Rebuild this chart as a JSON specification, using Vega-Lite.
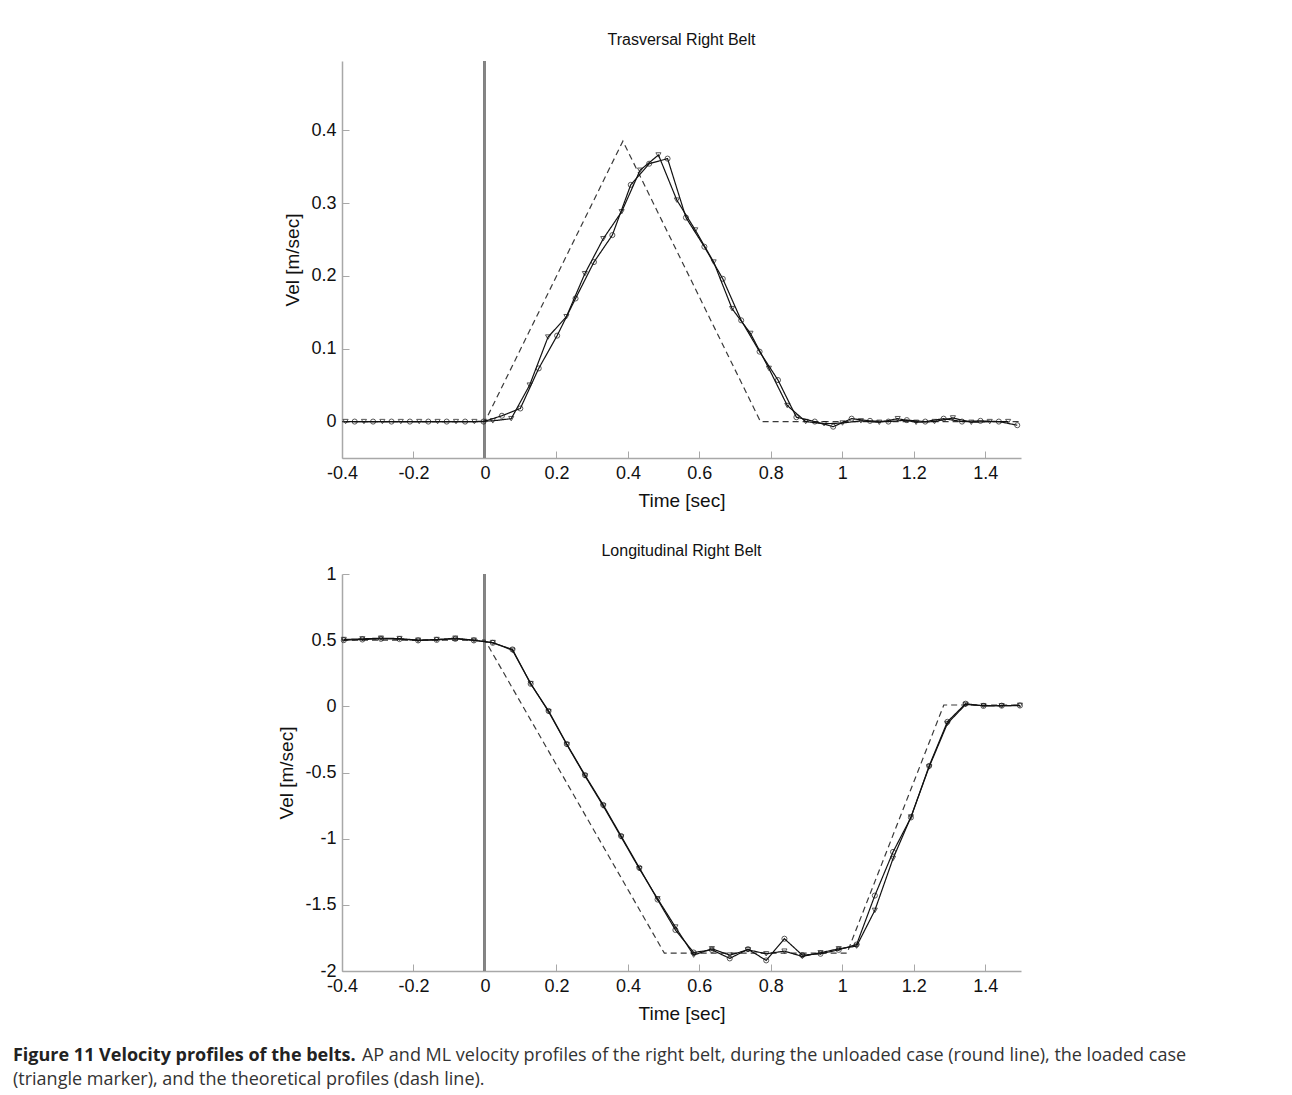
{
  "$schema": "https://vega.github.io/schema/vega-lite/v6.json",
  "background": "white",
  "padding": {"left": 12, "top": 32, "right": 5, "bottom": 5},
  "datasets": {
    "top": [
      {"t": -0.4, "v": 0, "case": "theoretical"},
      {"t": 0, "v": 0, "case": "theoretical"},
      {"t": 0.386, "v": 0.385, "case": "theoretical"},
      {"t": 0.771, "v": 0, "case": "theoretical"},
      {"t": 1.5, "v": 0, "case": "theoretical"},

      {"t": -0.39, "v": 0, "case": "loaded"},
      {"t": -0.3385, "v": 0, "case": "loaded"},
      {"t": -0.287, "v": 0, "case": "loaded"},
      {"t": -0.2355, "v": 0, "case": "loaded"},
      {"t": -0.184, "v": 0, "case": "loaded"},
      {"t": -0.1325, "v": 0, "case": "loaded"},
      {"t": -0.081, "v": 0, "case": "loaded"},
      {"t": -0.0295, "v": 0, "case": "loaded"},
      {"t": 0.022, "v": 0.001, "case": "loaded"},
      {"t": 0.0735, "v": 0.004, "case": "loaded"},
      {"t": 0.125, "v": 0.05, "case": "loaded"},
      {"t": 0.1765, "v": 0.116, "case": "loaded"},
      {"t": 0.228, "v": 0.144, "case": "loaded"},
      {"t": 0.2795, "v": 0.203, "case": "loaded"},
      {"t": 0.331, "v": 0.251, "case": "loaded"},
      {"t": 0.3825, "v": 0.288, "case": "loaded"},
      {"t": 0.434, "v": 0.345, "case": "loaded"},
      {"t": 0.4855, "v": 0.366, "case": "loaded"},
      {"t": 0.537, "v": 0.304, "case": "loaded"},
      {"t": 0.5885, "v": 0.263, "case": "loaded"},
      {"t": 0.64, "v": 0.219, "case": "loaded"},
      {"t": 0.6915, "v": 0.155, "case": "loaded"},
      {"t": 0.743, "v": 0.121, "case": "loaded"},
      {"t": 0.7945, "v": 0.073, "case": "loaded"},
      {"t": 0.846, "v": 0.022, "case": "loaded"},
      {"t": 0.8975, "v": 0.0, "case": "loaded"},
      {"t": 0.949, "v": -0.003, "case": "loaded"},
      {"t": 1.0005, "v": -0.002, "case": "loaded"},
      {"t": 1.052, "v": 0.001, "case": "loaded"},
      {"t": 1.1035, "v": -0.001, "case": "loaded"},
      {"t": 1.155, "v": 0.004, "case": "loaded"},
      {"t": 1.2065, "v": -0.001, "case": "loaded"},
      {"t": 1.258, "v": 0.0, "case": "loaded"},
      {"t": 1.3095, "v": 0.005, "case": "loaded"},
      {"t": 1.361, "v": -0.001, "case": "loaded"},
      {"t": 1.4125, "v": 0.0, "case": "loaded"},
      {"t": 1.464, "v": 0.0, "case": "loaded"},

      {"t": -0.3645, "v": 0, "case": "unloaded"},
      {"t": -0.313, "v": 0, "case": "unloaded"},
      {"t": -0.2615, "v": 0, "case": "unloaded"},
      {"t": -0.21, "v": 0, "case": "unloaded"},
      {"t": -0.1585, "v": 0, "case": "unloaded"},
      {"t": -0.107, "v": 0, "case": "unloaded"},
      {"t": -0.0555, "v": 0, "case": "unloaded"},
      {"t": -0.004, "v": 0, "case": "unloaded"},
      {"t": 0.0475, "v": 0.008, "case": "unloaded"},
      {"t": 0.099, "v": 0.018, "case": "unloaded"},
      {"t": 0.1505, "v": 0.073, "case": "unloaded"},
      {"t": 0.202, "v": 0.118, "case": "unloaded"},
      {"t": 0.2535, "v": 0.169, "case": "unloaded"},
      {"t": 0.305, "v": 0.219, "case": "unloaded"},
      {"t": 0.3565, "v": 0.256, "case": "unloaded"},
      {"t": 0.408, "v": 0.325, "case": "unloaded"},
      {"t": 0.4595, "v": 0.354, "case": "unloaded"},
      {"t": 0.511, "v": 0.361, "case": "unloaded"},
      {"t": 0.5625, "v": 0.28, "case": "unloaded"},
      {"t": 0.614, "v": 0.24, "case": "unloaded"},
      {"t": 0.6655, "v": 0.196, "case": "unloaded"},
      {"t": 0.717, "v": 0.139, "case": "unloaded"},
      {"t": 0.7685, "v": 0.096, "case": "unloaded"},
      {"t": 0.82, "v": 0.057, "case": "unloaded"},
      {"t": 0.8715, "v": 0.006, "case": "unloaded"},
      {"t": 0.923, "v": 0.0, "case": "unloaded"},
      {"t": 0.9745, "v": -0.007, "case": "unloaded"},
      {"t": 1.026, "v": 0.004, "case": "unloaded"},
      {"t": 1.0775, "v": 0.001, "case": "unloaded"},
      {"t": 1.129, "v": 0.0, "case": "unloaded"},
      {"t": 1.1805, "v": 0.002, "case": "unloaded"},
      {"t": 1.232, "v": 0.0, "case": "unloaded"},
      {"t": 1.2835, "v": 0.004, "case": "unloaded"},
      {"t": 1.335, "v": 0.0, "case": "unloaded"},
      {"t": 1.3865, "v": 0.001, "case": "unloaded"},
      {"t": 1.438, "v": 0.0, "case": "unloaded"},
      {"t": 1.4895, "v": -0.005, "case": "unloaded"}
    ],
    "bottom": [
      {"t": -0.4, "v": 0.5, "case": "theoretical"},
      {"t": 0, "v": 0.5, "case": "theoretical"},
      {"t": 0.502, "v": -1.865, "case": "theoretical"},
      {"t": 1.013, "v": -1.865, "case": "theoretical"},
      {"t": 1.284, "v": 0.01, "case": "theoretical"},
      {"t": 1.5, "v": 0.01, "case": "theoretical"},

      {"t": -0.395, "v": 0.505, "case": "loaded"},
      {"t": -0.343, "v": 0.51, "case": "loaded"},
      {"t": -0.291, "v": 0.515, "case": "loaded"},
      {"t": -0.239, "v": 0.512, "case": "loaded"},
      {"t": -0.187, "v": 0.5, "case": "loaded"},
      {"t": -0.135, "v": 0.505, "case": "loaded"},
      {"t": -0.083, "v": 0.515, "case": "loaded"},
      {"t": -0.031, "v": 0.5, "case": "loaded"},
      {"t": 0.022, "v": 0.482, "case": "loaded"},
      {"t": 0.077, "v": 0.424, "case": "loaded"},
      {"t": 0.128, "v": 0.172, "case": "loaded"},
      {"t": 0.178, "v": -0.04, "case": "loaded"},
      {"t": 0.229, "v": -0.289, "case": "loaded"},
      {"t": 0.28, "v": -0.526, "case": "loaded"},
      {"t": 0.331, "v": -0.753, "case": "loaded"},
      {"t": 0.381, "v": -0.987, "case": "loaded"},
      {"t": 0.432, "v": -1.227, "case": "loaded"},
      {"t": 0.483, "v": -1.454, "case": "loaded"},
      {"t": 0.533, "v": -1.668, "case": "loaded"},
      {"t": 0.584, "v": -1.88, "case": "loaded"},
      {"t": 0.635, "v": -1.832, "case": "loaded"},
      {"t": 0.685, "v": -1.88, "case": "loaded"},
      {"t": 0.736, "v": -1.84, "case": "loaded"},
      {"t": 0.787, "v": -1.87, "case": "loaded"},
      {"t": 0.838, "v": -1.85, "case": "loaded"},
      {"t": 0.888, "v": -1.89, "case": "loaded"},
      {"t": 0.939, "v": -1.862, "case": "loaded"},
      {"t": 0.99, "v": -1.832, "case": "loaded"},
      {"t": 1.04, "v": -1.812, "case": "loaded"},
      {"t": 1.091, "v": -1.542, "case": "loaded"},
      {"t": 1.142, "v": -1.15, "case": "loaded"},
      {"t": 1.192, "v": -0.836, "case": "loaded"},
      {"t": 1.243, "v": -0.458, "case": "loaded"},
      {"t": 1.294, "v": -0.13, "case": "loaded"},
      {"t": 1.345, "v": 0.014, "case": "loaded"},
      {"t": 1.395, "v": 0.005, "case": "loaded"},
      {"t": 1.446, "v": 0.004, "case": "loaded"},
      {"t": 1.497, "v": 0.008, "case": "loaded"},

      {"t": -0.395, "v": 0.5, "case": "unloaded"},
      {"t": -0.343, "v": 0.505, "case": "unloaded"},
      {"t": -0.291, "v": 0.51, "case": "unloaded"},
      {"t": -0.239, "v": 0.508, "case": "unloaded"},
      {"t": -0.187, "v": 0.498, "case": "unloaded"},
      {"t": -0.135, "v": 0.502, "case": "unloaded"},
      {"t": -0.083, "v": 0.51, "case": "unloaded"},
      {"t": -0.031, "v": 0.498, "case": "unloaded"},
      {"t": 0.022, "v": 0.48, "case": "unloaded"},
      {"t": 0.077, "v": 0.43, "case": "unloaded"},
      {"t": 0.128, "v": 0.17, "case": "unloaded"},
      {"t": 0.178, "v": -0.035, "case": "unloaded"},
      {"t": 0.229, "v": -0.285, "case": "unloaded"},
      {"t": 0.28, "v": -0.52, "case": "unloaded"},
      {"t": 0.331, "v": -0.745, "case": "unloaded"},
      {"t": 0.381, "v": -0.98, "case": "unloaded"},
      {"t": 0.432, "v": -1.22, "case": "unloaded"},
      {"t": 0.483, "v": -1.46, "case": "unloaded"},
      {"t": 0.533, "v": -1.69, "case": "unloaded"},
      {"t": 0.584, "v": -1.86, "case": "unloaded"},
      {"t": 0.635, "v": -1.84, "case": "unloaded"},
      {"t": 0.685, "v": -1.905, "case": "unloaded"},
      {"t": 0.736, "v": -1.835, "case": "unloaded"},
      {"t": 0.787, "v": -1.92, "case": "unloaded"},
      {"t": 0.838, "v": -1.756, "case": "unloaded"},
      {"t": 0.888, "v": -1.88, "case": "unloaded"},
      {"t": 0.939, "v": -1.87, "case": "unloaded"},
      {"t": 0.99, "v": -1.84, "case": "unloaded"},
      {"t": 1.04, "v": -1.8, "case": "unloaded"},
      {"t": 1.091, "v": -1.43, "case": "unloaded"},
      {"t": 1.142, "v": -1.1, "case": "unloaded"},
      {"t": 1.192, "v": -0.84, "case": "unloaded"},
      {"t": 1.243, "v": -0.45, "case": "unloaded"},
      {"t": 1.294, "v": -0.117, "case": "unloaded"},
      {"t": 1.345, "v": 0.02, "case": "unloaded"},
      {"t": 1.395, "v": 0.003, "case": "unloaded"},
      {"t": 1.446, "v": 0.005, "case": "unloaded"},
      {"t": 1.497, "v": 0.006, "case": "unloaded"}
    ]
  },
  "title": {
    "text": "Figure 11 Velocity profiles of the belts.",
    "subtitle": "(triangle marker), and the theoretical profiles (dash line).",
    "orient": "bottom",
    "anchor": "start",
    "frame": "bounds",
    "dx": -265,
    "dy": -18,
    "offset": 0,
    "font": "Open Sans",
    "fontSize": 18,
    "fontWeight": "bold",
    "color": "#222222",
    "subtitleFont": "Open Sans",
    "subtitleFontSize": 18,
    "subtitleColor": "#333333",
    "subtitlePadding": 6
  },
  "vconcat": [
    {
      "title": {
        "text": "AP and ML velocity profiles of the right belt, during the unloaded case (round line), the loaded case",
        "orient": "bottom",
        "anchor": "start",
        "frame": "bounds",
        "dx": 84,
        "offset": 24,
        "font": "Open Sans",
        "fontSize": 18,
        "fontWeight": "normal",
        "color": "#333333"
      },
      "spacing": 33,
      "vconcat": [
        {
          "width": 679,
          "height": 397,
          "title": {"text": "Trasversal Right Belt", "offset": 12},
          "data": {"name": "top"},
          "layer": [
            {
              "mark": {"type": "rule", "color": "#858585", "strokeWidth": 2},
              "encoding": {"x": {"datum": 0, "type": "quantitative"}}
            },
            {
              "mark": {"type": "line", "strokeWidth": 1.2},
              "encoding": {
                "x": {"field": "t", "type": "quantitative", "scale": {"domain": [-0.4, 1.5], "nice": false, "zero": false},
                      "axis": {"title": "Time [sec]", "values": [-0.4, -0.2, 0, 0.2, 0.4, 0.6, 0.8, 1, 1.2, 1.4], "labelExpr": "'' + datum.value"}},
                "y": {"field": "v", "type": "quantitative", "scale": {"domain": [-0.05, 0.495], "nice": false, "zero": false},
                      "axis": {"title": "Vel [m/sec]", "values": [0, 0.1, 0.2, 0.3, 0.4], "labelExpr": "'' + datum.value"}},
                "detail": {"field": "case"},
                "color": {"field": "case", "type": "nominal", "scale": {"domain": ["unloaded", "loaded", "theoretical"], "range": ["#111111", "#111111", "#3a3a3a"]}, "legend": null},
                "strokeDash": {"field": "case", "type": "nominal", "scale": {"domain": ["unloaded", "loaded", "theoretical"], "range": [[1, 0], [1, 0], [6, 4]]}, "legend": null}
              }
            },
            {
              "transform": [{"filter": "datum.case !== 'theoretical'"}],
              "mark": {"type": "point", "filled": false, "size": 26, "strokeWidth": 1, "color": "#111111"},
              "encoding": {
                "x": {"field": "t", "type": "quantitative"},
                "y": {"field": "v", "type": "quantitative"},
                "shape": {"field": "case", "type": "nominal", "scale": {"domain": ["unloaded", "loaded"], "range": ["circle", "triangle-down"]}, "legend": null}
              }
            }
          ]
        },
        {
          "width": 679,
          "height": 397,
          "title": {"text": "Longitudinal Right Belt", "offset": 6},
          "data": {"name": "bottom"},
          "layer": [
            {
              "mark": {"type": "rule", "color": "#858585", "strokeWidth": 2},
              "encoding": {"x": {"datum": 0, "type": "quantitative"}}
            },
            {
              "mark": {"type": "line", "strokeWidth": 1.2},
              "encoding": {
                "x": {"field": "t", "type": "quantitative", "scale": {"domain": [-0.4, 1.5], "nice": false, "zero": false},
                      "axis": {"title": "Time [sec]", "values": [-0.4, -0.2, 0, 0.2, 0.4, 0.6, 0.8, 1, 1.2, 1.4], "labelExpr": "'' + datum.value"}},
                "y": {"field": "v", "type": "quantitative", "scale": {"domain": [-2, 1], "nice": false, "zero": false},
                      "axis": {"title": "Vel [m/sec]", "values": [-2, -1.5, -1, -0.5, 0, 0.5, 1], "labelExpr": "'' + datum.value"}},
                "detail": {"field": "case"},
                "color": {"field": "case", "type": "nominal", "scale": {"domain": ["unloaded", "loaded", "theoretical"], "range": ["#111111", "#111111", "#3a3a3a"]}, "legend": null},
                "strokeDash": {"field": "case", "type": "nominal", "scale": {"domain": ["unloaded", "loaded", "theoretical"], "range": [[1, 0], [1, 0], [6, 4]]}, "legend": null}
              }
            },
            {
              "transform": [{"filter": "datum.case !== 'theoretical'"}],
              "mark": {"type": "point", "filled": false, "size": 26, "strokeWidth": 1, "color": "#111111"},
              "encoding": {
                "x": {"field": "t", "type": "quantitative"},
                "y": {"field": "v", "type": "quantitative"},
                "shape": {"field": "case", "type": "nominal", "scale": {"domain": ["unloaded", "loaded"], "range": ["circle", "triangle-down"]}, "legend": null}
              }
            }
          ]
        }
      ]
    }
  ],
  "config": {
    "font": "Liberation Sans",
    "view": {"stroke": null},
    "axis": {
      "labelFontSize": 18,
      "titleFontSize": 19,
      "titleFontWeight": "normal",
      "labelColor": "#111111",
      "titleColor": "#111111",
      "domainColor": "#a8a8a8",
      "domainWidth": 1.5,
      "tickColor": "#a8a8a8",
      "tickSize": -7,
      "labelPadding": 13,
      "grid": false,
      "labelFlush": false,
      "labelOverlap": false,
      "labelBound": false
    },
    "axisY": {"titlePadding": 8},
    "axisX": {"titlePadding": 9},
    "title": {"fontSize": 16, "fontWeight": "normal", "color": "#111111", "font": "Liberation Sans"}
  }
}
